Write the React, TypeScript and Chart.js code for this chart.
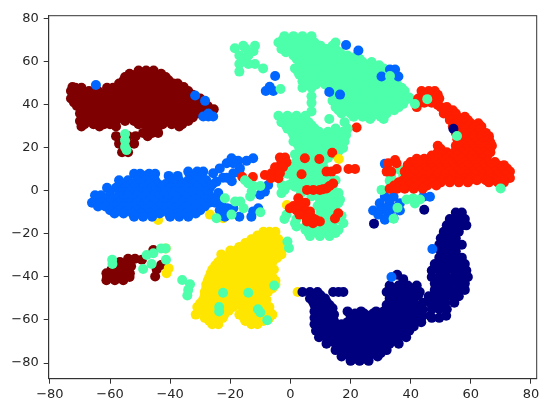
import React, { useEffect, useRef } from "react";
import { Chart, registerables } from "chart.js";

Chart.register(...registerables);

type Rows = [number, number[]][];

const xTickValues = [-80, -60, -40, -20, 0, 20, 40, 60, 80];
const yTickValues = [-80, -60, -40, -20, 0, 20, 40, 60, 80];

const maroonRows: Rows = [
  [56, [-50.5, -48, -45.5]],
  [54.5, [-53.5, -51, -48.5, -46, -43]],
  [53, [-55, -52.5, -50, -47, -44, -41.5]],
  [51.5, [-55.5, -52.5, -49.5, -46.5, -43.5, -40.5]],
  [50, [-57, -54, -51, -48, -45, -42, -39, -37.5]],
  [48.3, [-56, -53, -50, -47, -44, -41, -38, -35.5, -72.5]],
  [48, [-71.5, -69.5, -61, -59]],
  [46.5, [-73, -70, -67, -64, -61, -58, -55, -52, -49, -46, -43, -40, -37, -34]],
  [44.7, [-71.5, -68.5, -65.5, -62.5, -59.5, -56.5, -53.5, -50.5, -47.5, -44.5, -41.5, -38.5, -35.5, -32.5]],
  [43, [-73, -71, -68, -65, -62, -59, -56, -53, -50, -47, -44, -41, -38, -35, -32, -30]],
  [41.2, [-72, -69.5, -66.5, -63.5, -60.5, -57.5, -54.5, -51.5, -48.5, -45.5, -42.5, -39.5, -36.5, -33.5, -30.5]],
  [39.5, [-71, -68, -65, -62, -59, -56, -53, -50, -47, -44, -41, -38, -35, -32, -29, -27.5]],
  [38, [-25.5]],
  [37.7, [-69.5, -66.5, -63.5, -60.5, -57.5, -54.5, -51.5, -48.5, -45.5, -42.5, -39.5, -36.5, -33.5, -30.5, -28]],
  [36, [-70, -67, -64, -61, -58, -55, -52, -49, -46, -43, -40, -37, -34, -31]],
  [34.2, [-68.5, -65.5, -62.5, -59.5, -56.5, -53.5, -50.5, -47.5, -44.5, -41.5, -38.5, -35.5, -32.5]],
  [32.5, [-70, -67, -64, -61, -58, -55, -52, -49, -46, -43, -40, -37, -34]],
  [31, [-68.5, -65.5, -62, -60, -50.5, -48.5, -45.5, -42.5, -39.5, -36]],
  [30, [-69.5, -63.5, -58, -47, -44, -37]],
  [27, [-49, -46, -44]],
  [25.5, [-47.5, -58, -51.5, -54]],
  [22, [-57, -52, -54.5]],
  [18, [-56, -54]],
  [-31.5, [-51.7, -54]],
  [-32, [-49.4]],
  [-33, [-56.7]],
  [-34.4, [-55, -43]],
  [-35, [-57.5, -53]],
  [-36.5, [-56.2, -54, -44.5, -59.5]],
  [-37.5, [-57.5, -55.5]],
  [-38.3, [-61.2, -59, -53.4]],
  [-39.8, [-45, -57, -55]],
  [-40, [-59.5, -61, -53.5, -56.5]],
  [-41.5, [-61.2, -58.4, -55.6]],
  [-27.5, [-45.6]],
];

const yellowRows: Rows = [
  [-19, [-9, -7, -5]],
  [-20.7, [-11, -8, -5.5]],
  [-22.5, [-13, -10, -7, -4]],
  [-24.2, [-15, -12, -9, -6, -3.5]],
  [-26, [-17, -14, -11, -8, -5, -2.5]],
  [-27.7, [-20, -18, -15.5, -12.5, -9.5, -6.5, -4]],
  [-29.5, [-23, -20, -17, -14, -11, -8, -5, -3]],
  [-31.2, [-22.5, -19.5, -16.5, -13.5, -10.5, -7.5, -4.5]],
  [-33, [-24, -21, -18, -15, -12, -9, -6]],
  [-34.7, [-25, -22, -19, -16, -13, -10, -7]],
  [-36.5, [-26, -23, -20, -17, -14, -11, -8, -5.5]],
  [-38.2, [-26.5, -24.5, -21.5, -18.5, -15.5, -12.5, -9.5, -6.5]],
  [-40, [-27, -24, -21, -18, -15, -12, -9, -6]],
  [-41.7, [-27.5, -25.5, -22.5, -19.5, -16.5, -13.5, -10.5, -7.5, -5]],
  [-43.5, [-28, -25, -22, -19, -16, -13, -10, -7, -5]],
  [-45.2, [-28, -26, -23, -20, -17, -14, -11, -8, -6]],
  [-47, [-28.5, -25.5, -22.5, -19.5, -16.5, -13.5, -10.5, -7.5, 2.4]],
  [-48.7, [-28.5, -27, -24, -21, -18, -15, -12, -9]],
  [-50.5, [-29, -26, -23, -20, -17, -14, -11, -8]],
  [-52.2, [-30, -27, -24, -21, -18, -15, -12, -9]],
  [-54, [-31, -28, -25, -22, -19, -16, -13, -10, -7]],
  [-55.7, [-29.5, -26.5, -23.5, -20.5, -15, -12, -9, -7]],
  [-57.5, [-31.5, -28, -25, -22, -17, -14, -11, -8, -6]],
  [-59, [-28.5, -25.5, -22.5, -15.5, -12.5, -9.5, -7]],
  [-60.5, [-27, -24, -15, -12, -9]],
  [-62, [-26, -24, -13, -11]],
  [-38.3, [-41.2]],
  [-36, [-40.5]],
  [-26.7, [-41.5]],
  [-13.5, [-44]],
  [-6.5, [-28.4, -1.2]],
  [-11, [-26.8]],
  [-12.7, [-22.4]],
];

const navyRows: Rows = [
  [-10, [55, 57]],
  [-13, [53, 55.5, 58]],
  [-16, [52, 54.5, 57, 58.5]],
  [-19, [51, 53.5, 56]],
  [-22, [50, 52.5, 55]],
  [-25, [49.5, 52, 54.5, 57]],
  [-28, [50, 52.5, 55]],
  [-31, [49.5, 52, 54.5, 57]],
  [-34, [48, 50.5, 53, 55.5, 58]],
  [-37, [47, 49.5, 52, 54.5, 57, 58.5]],
  [-39, [35.5]],
  [-40, [47, 49.5, 52, 54.5, 57, 59]],
  [-41, [37.5]],
  [-43, [48, 50.5, 53, 55.5, 58]],
  [-44, [33, 36, 39, 42]],
  [-45.5, [33.5, 36.5, 39.5]],
  [-46, [48, 50.5, 53, 55.5, 58]],
  [-47, [4, 6.5, 9, 14.2, 16, 17.6, 32, 35, 38, 40.5, 43]],
  [-48.5, [34, 37, 40, 42.5, 7.5, 10]],
  [-49, [46, 48.5, 51, 53.5, 56]],
  [-50, [6.5, 9, 11.5, 33, 36, 39]],
  [-51.5, [33, 35, 38, 41, 7.5, 10, 12]],
  [-52, [44, 46.5, 49, 51.5, 54.5]],
  [-53, [8, 11, 13, 32, 35, 38, 41]],
  [-54.5, [33.5, 36.5, 39.5, 42, 9.5, 12, 14]],
  [-55, [42, 44, 47, 49.5, 52]],
  [-56, [8, 11, 13.5, 19, 23.5, 28.5, 31, 34, 37, 40, 43]],
  [-57, [21.5, 24.5, 27.5, 30.5, 33.5, 36.5, 39.5, 42.5]],
  [-57.5, [9.5, 12, 14.5]],
  [-58, [20, 23, 26, 29, 32, 35, 38, 41, 44, 46.5, 51.8]],
  [-59, [8, 10.5, 13, 47, 49.5]],
  [-59.5, [21.5, 24.5, 27.5, 30.5, 33.5, 36.5, 39.5, 42]],
  [-60.5, [9.5, 12, 14.5]],
  [-61, [19, 22, 25, 28, 31, 34, 37, 40, 43.5]],
  [-62, [8, 10.5, 13, 15, 17]],
  [-63, [20.5, 23.5, 26.5, 29.5, 32.5, 35.5, 38.5, 41]],
  [-63.5, [9.5, 12, 14.5, 17]],
  [-65, [8.5, 11, 13.5, 16, 19, 22, 25, 28, 31, 34, 37, 39.5]],
  [-66.5, [10, 12.5, 15, 17.5, 20.5, 23.5, 26.5, 29.5, 32.5, 35.5, 38]],
  [-68, [9.5, 12, 15, 18, 21, 24, 27, 30, 33, 36, 38.5]],
  [-69.5, [13.5, 16.5, 19.5, 22.5, 25.5, 28.5, 31.5, 34.5]],
  [-71, [12, 15, 18, 21, 24, 27, 30, 33, 36]],
  [-72.5, [16.5, 19.5, 22.5, 25.5, 28.5, 31.5]],
  [-74, [15, 18, 21, 24, 27, 30, 32]],
  [-75.5, [18.5, 21.5, 24.5, 27.5, 30]],
  [-77, [17, 20, 23, 26, 29]],
  [-78, [21.5, 24.5]],
  [-79, [20, 23, 26]],
  [-15.2, [27.8]],
  [-8.7, [44.5]],
];

const blueRows: Rows = [
  [9, [-34, -31, -29]],
  [8, [-52, -50, -47, -45]],
  [7, [-48.5, -45.5, -32.5, -29.5, -40.5, -37.5]],
  [5, [-57, -54, -51, -48, -45, -40, -37, -34, -31, -28]],
  [3.2, [-56, -53, -50, -47, -44, -41.5, -38.5, -35.5, -32.5, -29.5]],
  [1.5, [-61, -58, -55, -52, -49, -46, -43, -40, -37, -34, -31, -28, -26.8]],
  [-0.2, [-60, -56.5, -53.5, -50.5, -47.5, -44.5, -41.5, -38.5, -35.5, -32.5, -29.5, -27.5]],
  [-2, [-65, -63, -60, -57, -54, -51, -48, -45, -42, -39, -36, -33, -30, -27]],
  [-3.8, [-64.5, -61.5, -58.5, -55.5, -52.5, -49.5, -46.5, -43.5, -40.5, -37.5, -34.5, -31.5, -28.5]],
  [-5.5, [-66, -63, -60, -57, -54, -51, -48, -45, -42, -39, -36, -33, -30, -27, -25]],
  [-7.2, [-64, -61.5, -58.5, -55.5, -52.5, -49.5, -46.5, -43.5, -40.5, -37.5, -34.5, -31.5, -28.5]],
  [-9, [-60, -57, -54, -51, -48, -45, -42, -39, -36, -33, -30, -23.5]],
  [-10.5, [-58.5, -55.5, -52.5, -49.5, -46.5, -43.5, -40.5, -37.5, -34.5, -31.5]],
  [-12, [-52, -49, -46, -40, -37, -34, -21.8]],
  [49.3, [-64.7]],
  [44.4, [-31.7]],
  [41.9, [-28.4]],
  [36, [-27.3]],
  [34.6, [-29, -27.3, -25.7]],
  [53.5, [-5.1]],
  [48.5, [-6.9]],
  [46.5, [-8.2, -5.7]],
  [15.2, [-19.6, -12.4]],
  [14, [-14.6, -17.4]],
  [12.9, [-21.2, -19]],
  [10.5, [-23.5, -16.8]],
  [8.5, [-17]],
  [8.2, [-25.7, -19]],
  [6.2, [-22.4, -21.2]],
  [4.5, [-19.5]],
  [4.3, [-24.6]],
  [3, [-26]],
  [2.8, [-7.4]],
  [-0.3, [-8.5]],
  [-1, [-24]],
  [-1.8, [-10.1]],
  [-4, [-25]],
  [-6, [-23]],
  [-8, [-10.7, -21, -19]],
  [-9.5, [-12.4]],
  [-12, [-13, -17]],
  [12.6, [31.4]],
  [-2.7, [31.4, 34.3, 44.2, 46.4]],
  [-5.7, [29.7, 36.4, 33]],
  [-8, [32, 34]],
  [-9.1, [27.5, 30, 36.4]],
  [-11, [29.2, 32.5]],
  [-12.7, [34.3]],
  [-13.4, [31.4]],
];

const redUnderRows: Rows = [
  [6.5, [-16, -12.5]],
  [29.5, [22]],
  [39, [42]],
];

const greenRows: Rows = [
  [72, [-2, 1, 4, 7]],
  [70.5, [-2.5, 0, 2.5, 5.5]],
  [69, [-4, -1, 2, 5, 8, 15]],
  [67.5, [-2, 1, 4, 7, 10, 14]],
  [66, [-3, 0, 3, 6, 9, 12, 15]],
  [64.5, [-1.5, 2, 4.5, 7.5, 10.5, 13.5, 16.5]],
  [63, [1, 4, 7, 10, 13, 16, 19, 22]],
  [61.5, [2, 5, 8, 11, 14, 17, 20, 23]],
  [60, [3, 6, 9, 12, 15, 18, 21, 24, 27]],
  [58.5, [3, 5.5, 8.5, 11.5, 14.5, 17.5, 20.5, 23.5, 26.5, 29.5]],
  [57, [1.5, 4, 7, 10, 13, 16, 19, 22, 25, 28, 31]],
  [55.5, [2.5, 5.5, 8.5, 11.5, 14.5, 17.5, 20.5, 23.5, 26.5, 29.5, 32]],
  [54, [3, 6, 9, 12, 15, 18, 21, 24, 27, 30]],
  [52.5, [4.5, 7.5, 10.5, 13.5, 16.5, 19.5, 22.5, 25.5, 28.5, 31.5, 34]],
  [51, [4, 7, 10, 13, 16, 19, 22, 25, 28, 31, 34]],
  [49.5, [5.5, 8.5, 11.5, 14.5, 17.5, 20.5, 23.5, 26.5, 29.5, 32.5, 35.5]],
  [48, [4, 7, 13, 16, 19, 22, 25, 28, 31, 34, 37]],
  [46.5, [14.5, 17.5, 20.5, 23.5, 26.5, 29.5, 32.5, 35.5, 38]],
  [45, [16, 19, 22, 25, 28, 31, 34, 37]],
  [43.5, [15.5, 18.5, 21.5, 24.5, 27.5, 30.5, 33.5, 36.5, 39.5]],
  [42, [14, 17, 20, 23, 26, 29, 32, 35, 38, 41]],
  [40.5, [16.5, 19.5, 22.5, 25.5, 28.5, 31.5, 34.5, 37.5]],
  [39, [15, 18, 21, 24, 27, 30, 33, 36]],
  [37.5, [16, 19.5, 22.5, 25.5, 28.5, 31.5, 34.5]],
  [36, [17, 20, 23, 26, 29, 32]],
  [34.5, [21, 24, 27, 30]],
  [33.5, [26.5, 31, 12.9, -2.5, 0.5, 3.5]],
  [44, [7]],
  [41, [7]],
  [37, [7]],
  [35, [-4, -1, 2, 5]],
  [32, [-3, 0, 3, 6, 18]],
  [30.5, [-1.5, 1.5, 4.5, 7]],
  [29, [-1, 2, 5, 8, 15, 19]],
  [27.5, [0.5, 3.5, 6.5, 9.5, 12.5, 15.5, 17.5]],
  [26, [1, 4, 7, 10, 13, 16, 18.5]],
  [24.5, [2.5, 5.5, 8.5, 11.5, 14.5, 17.5]],
  [23, [1, 4, 7, 10, 13, 16, 18]],
  [21.5, [2.5, 5.5, 8.5, 11.5, 14.5, 17]],
  [20, [3, 6, 9, 12, 15, 17.5]],
  [18.5, [4.5, 7.5, 10.5, 13.5, 16]],
  [17, [1.5, 6, 9, 12, 15]],
  [15.5, [3.5, 6.5, 9.5, 12.5]],
  [14, [2, 5, 8, 11]],
  [12.5, [3.5, 6.5, 9.5]],
  [11, [0.5, 2, 5, 8, 11]],
  [9.5, [1.5, 4.5, 7.5, 10.5]],
  [8, [-1, 3, 6, 9, 12]],
  [6.5, [2, 5, 8, 11]],
  [5, [1, 3.5, 6.5, 9.5, 12.5, 15]],
  [3.5, [2.5, 5, 8, 11, 14]],
  [2.8, [-2.9, -0.5]],
  [2, [-2, 1.5, 4.3, 8, 11, 14]],
  [0.5, [-2]],
  [-1, [-3, 3.5, 9.8, 13, 16]],
  [-2.5, [11, 14.5, 7]],
  [-4, [9.8, 13, 16.5]],
  [-5.5, [10, 13, 16]],
  [-7, [3, 9, 12, 15]],
  [-8.5, [11, 14]],
  [-10, [10, 13, 15]],
  [-11.5, [11, 14, 17]],
  [-11, [-1.3]],
  [-13, [-2, 2, 10, 13, 16]],
  [-15, [1.5, 11, 14, 17.6]],
  [-16.5, [2, 5, 8, 11, 14]],
  [-18, [5, 8, 11, 14, 16]],
  [-19.5, [6, 9, 12, 15]],
  [-21, [6.5, 9.8, 13]],
  [66.4, [-18.5, -15]],
  [67.5, [-15.7, -11.8]],
  [65, [-12.3]],
  [63, [-17, -14]],
  [61, [-15.5]],
  [59, [-17, -14, -11.8]],
  [57, [-9.1]],
  [55.5, [-17]],
  [47.4, [-3.3]],
  [26.5, [-55]],
  [23.5, [-55]],
  [20.5, [-55]],
  [19, [-54.5]],
  [-32, [-59.3, -41.4]],
  [-34, [-59.2, -46.2]],
  [-29.8, [-47.8]],
  [-29, [-45.6]],
  [-26.7, [-43, -41.5]],
  [-36.3, [-49]],
  [-41.4, [-36]],
  [-43.4, [-33.4]],
  [-46, [-34]],
  [-48.6, [-34.3]],
  [-23.5, [-1]],
  [-26.5, [-0.5]],
  [5, [-15.1]],
  [3.5, [-14]],
  [2.3, [-12.3, -10]],
  [-0.3, [-12.9]],
  [-2.6, [-13.4]],
  [-4.9, [-16.7, -18.4]],
  [-8, [-15.6]],
  [-3.4, [-21.8]],
  [-11, [-19.6]],
  [-12.7, [-24.6]],
  [-9.9, [-10]],
  [0.5, [30.3]],
  [4.7, [33]],
  [9.8, [36.4]],
  [7, [37.5, 33.5]],
  [-4, [38.6, 43.1]],
  [-3.4, [40.8]],
  [-5.8, [41.4]],
  [-7.8, [35.6]],
  [-12.9, [34.3]],
  [-44, [-5.4]],
];

const redRows: Rows = [
  [46.5, [43.6, 46, 48]],
  [44.7, [44.5, 47, 49]],
  [43, [42.5, 47.5, 49.5]],
  [41, [44.5, 47]],
  [40, [49]],
  [39, [50, 52]],
  [37.5, [51.5, 54]],
  [36, [51, 53, 55]],
  [34.5, [53, 55.5, 58]],
  [33, [53, 55, 57, 59]],
  [31.5, [55, 58, 60, 62.5]],
  [30, [54, 56.5, 59, 61.5, 63.5]],
  [28.5, [55.5, 58, 60.5, 63]],
  [27, [55, 57.5, 60, 62.5, 65]],
  [25.5, [56, 58.5, 61, 63.5, 66]],
  [24, [55.5, 58, 60.5, 63, 66]],
  [22.5, [56.5, 59, 61.5, 64, 66.5]],
  [21, [49, 55, 57.5, 60, 62.5, 65, 67]],
  [19.5, [50, 56, 58.5, 61, 63.5, 66]],
  [18, [49, 52, 54.5, 57, 59.5, 62, 64.5, 66.5]],
  [16.5, [47, 50.5, 53, 55.5, 58, 60.5, 63, 65.5]],
  [15, [42, 44.5, 47, 49.5, 52, 54.5, 57, 59.5, 62, 64]],
  [13.5, [40, 43, 45.5, 48, 50.5, 53, 55.5, 58, 60.5, 63, 65.5, 68]],
  [12, [39, 41.5, 44, 46.5, 49, 51.5, 54, 56.5, 59, 61.5, 64, 66.5, 69, 71]],
  [10.5, [39.5, 42, 44.5, 47, 49.5, 52, 54.5, 57, 59.5, 62, 64.5, 67, 69.5, 72]],
  [9, [38, 40.5, 43, 45.5, 48, 50.5, 53, 55.5, 58, 60.5, 63, 65.5, 68, 70.5, 73]],
  [7.5, [39, 41.5, 44, 46.5, 49, 51.5, 54, 56.5, 59, 61.5, 64, 66.5, 69, 71.5]],
  [6, [40, 43, 46, 49, 52, 55, 58, 60, 64, 67, 70, 73]],
  [5, [37.5, 41.5, 44.5, 47.5, 50.5, 53.5, 56.5, 59.5, 62, 65, 68, 71]],
  [4, [36, 38.5, 41, 44, 47, 50, 53, 56, 59, 66, 69, 71]],
  [2.5, [34.5, 37, 39.5, 42.5, 45.5, 48.5]],
  [1, [33, 35.5, 38, 41, 44]],
  [14.4, [34.8]],
  [12.9, [35.3, 32.5]],
  [9, [32, 33.5]],
  [15.6, [-3.5, -1.8]],
  [13.3, [-1.3, -3]],
  [11, [-5.1, -2.5]],
  [8.2, [-6.3, -3.5]],
  [7.4, [-8.5]],
  [5.9, [-4, -6.5]],
  [15.2, [4.8]],
  [14.9, [9.6]],
  [17.8, [13.9]],
  [7.8, [3.7]],
  [9, [12, 13.7]],
  [10.2, [15.4, 19.3, 21.5]],
  [3.5, [14.2]],
  [2.3, [13]],
  [1.2, [12]],
  [0.8, [10.8]],
  [0.5, [9.8, 7.6, 5.5]],
  [-3.4, [2.6]],
  [-5.5, [3, 5]],
  [-7, [1]],
  [-7.3, [3.2]],
  [-8, [4.3, -0.2]],
  [-9, [2]],
  [-9.6, [6.5, 4.8]],
  [-11, [5.5, 6.5, 3]],
  [-12.8, [7.6, 5.4, 14.8]],
  [-13.5, [8.5]],
  [-14.2, [9.8, 5.5]],
  [-15, [7.5]],
  [-10.4, [15.9]],
];

const navyTopRows: Rows = [[28.9, [54.2]]];

const blueTopRows: Rows = [
  [67.9, [18.5]],
  [65.3, [22.6]],
  [46, [12.9]],
  [44.8, [16.5]],
  [53.2, [30.3, 35.9]],
  [56.5, [33.1, 34.8]],
  [-27, [47.2]],
  [-40, [33.6]],
];

const greenTopRows: Rows = [
  [42.7, [45.5]],
  [40.4, [41.4]],
  [53.5, [33.1]],
  [25.6, [55.4]],
  [1.2, [69.9]],
  [-47.3, [-22.4, -14]],
  [-54, [-23.7]],
  [-56, [-23.7]],
  [-55, [-10.8]],
  [-56.5, [-10]],
  [-60.1, [-7.7]],
];

const yellowTopRows: Rows = [[14.9, [16.1]]];

const seriesList: { rows: Rows; color: string }[] = [
  { rows: maroonRows, color: "#7f0000" },
  { rows: yellowRows, color: "#ffe600" },
  { rows: navyRows, color: "#00007f" },
  { rows: blueRows, color: "#0066ff" },
  { rows: redUnderRows, color: "#ff1e00" },
  { rows: greenRows, color: "#4dffaa" },
  { rows: redRows, color: "#ff1e00" },
  { rows: navyTopRows, color: "#00007f" },
  { rows: blueTopRows, color: "#0066ff" },
  { rows: greenTopRows, color: "#4dffaa" },
  { rows: yellowTopRows, color: "#ffe600" },
];

const toPoints = (rows: Rows) =>
  rows.flatMap(([y, xs]) => xs.map((x) => ({ x, y })));

const fmt = (v: string | number) => String(v).replace("-", "\u2212");

const framePlugin = {
  id: "frame",
  afterDraw(chart: Chart) {
    const { ctx, chartArea: a } = chart;
    ctx.save();
    ctx.strokeStyle = "#333333";
    ctx.lineWidth = 1;
    ctx.strokeRect(a.left, a.top, a.right - a.left, a.bottom - a.top);
    ctx.restore();
  },
};

export default function App() {
  const ref = useRef<HTMLCanvasElement>(null);
  useEffect(() => {
    document.body.style.margin = "0";
    const tickFont = { family: "DejaVu Sans", size: 13 };
    const chart = new Chart(ref.current!, {
      type: "scatter",
      data: {
        // Chart.js paints the first dataset last, so list them top layer first.
        datasets: seriesList
          .map((s) => ({
            data: toPoints(s.rows),
            backgroundColor: s.color,
            borderWidth: 0,
            pointRadius: 5,
            pointHoverRadius: 5,
          }))
          .reverse(),
      },
      options: {
        responsive: false,
        animation: false,
        layout: { padding: { top: 15.7, right: 13.3, left: 0, bottom: 0 } },
        plugins: { legend: { display: false }, tooltip: { enabled: false } },
        scales: {
          x: {
            type: "linear",
            min: -80.4,
            max: 81.9,
            afterBuildTicks: (s: any) => {
              s.ticks = xTickValues.map((value) => ({ value }));
            },
            afterFit: (s: any) => {
              s.height = 30.3;
            },
            grid: { drawOnChartArea: false, drawTicks: true, tickLength: 5, color: "#333333" },
            border: { color: "#333333", width: 1 },
            ticks: {
              font: tickFont,
              color: "#262626",
              padding: 3.5,
              maxRotation: 0,
              autoSkip: false,
              callback: (v: any) => fmt(v),
            },
          },
          y: {
            type: "linear",
            min: -87.3,
            max: 81.5,
            afterBuildTicks: (s: any) => {
              s.ticks = yTickValues.map((value) => ({ value }));
            },
            afterFit: (s: any) => {
              s.width = 48.7;
            },
            grid: { drawOnChartArea: false, drawTicks: true, tickLength: 5, color: "#333333" },
            border: { color: "#333333", width: 1 },
            ticks: {
              font: tickFont,
              color: "#262626",
              padding: 5,
              autoSkip: false,
              callback: (v: any) => fmt(v),
            },
          },
        },
      },
      plugins: [framePlugin],
    } as any);
    return () => chart.destroy();
  }, []);
  return <canvas ref={ref} width={550} height={409} style={{ display: "block" }} />;
}
